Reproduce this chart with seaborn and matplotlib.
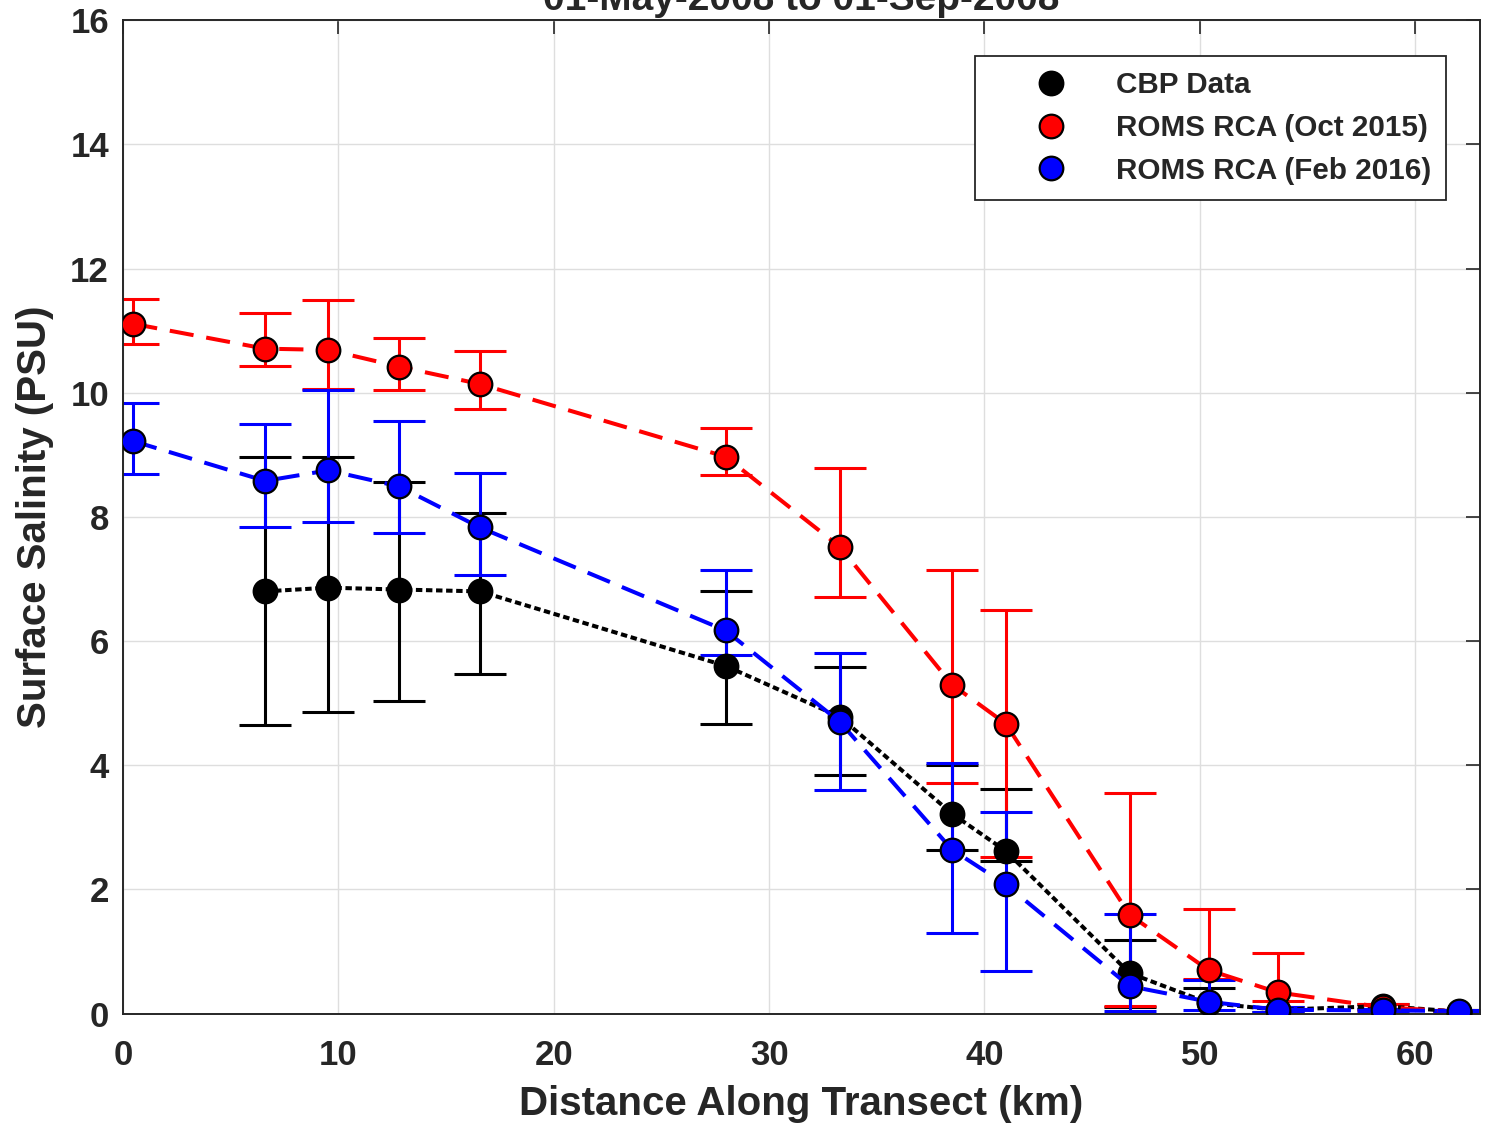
import numpy as np
import pandas as pd
import matplotlib
matplotlib.use("Agg")
import matplotlib.pyplot as plt
from matplotlib.lines import Line2D
import seaborn as sns

# Station distances along the transect (km)
distance_km = [0.49, 6.60, 9.54, 12.83, 16.58, 27.98, 33.28, 38.49, 40.98,
               46.74, 50.40, 53.62, 58.49, 62.05]

# CBP observations: mean, lower and upper bound (PSU)
cbp_mean = [np.nan, 6.80, 6.86, 6.83, 6.80, 5.60, 4.78, 3.22, 2.62, 0.65, 0.17, 0.06, 0.12, 0.03]
cbp_low = [np.nan, 4.64, 4.85, 5.03, 5.47, 4.66, 3.85, 2.64, 2.45, 0.10, 0.00, 0.02, 0.08, 0.01]
cbp_high = [np.nan, 8.96, 8.96, 8.56, 8.07, 6.81, 5.59, 4.01, 3.61, 1.19, 0.41, 0.10, 0.16, 0.05]

# ROMS RCA run (Oct 2015)
oct_mean = [11.11, 10.71, 10.69, 10.42, 10.14, 8.97, 7.52, 5.30, 4.67, 1.59, 0.70, 0.34, 0.10, 0.03]
oct_low = [10.78, 10.43, 10.06, 10.05, 9.74, 8.68, 6.71, 3.71, 2.52, 0.12, 0.55, 0.20, 0.05, 0.01]
oct_high = [11.51, 11.29, 11.49, 10.88, 10.68, 9.43, 8.78, 7.14, 6.50, 3.55, 1.69, 0.98, 0.16, 0.05]

# ROMS RCA run (Feb 2016)
feb_mean = [9.22, 8.58, 8.75, 8.49, 7.83, 6.17, 4.70, 2.64, 2.08, 0.44, 0.19, 0.06, 0.05, 0.04]
feb_low = [8.69, 7.83, 7.91, 7.74, 7.06, 5.77, 3.60, 1.29, 0.69, 0.04, 0.05, 0.02, 0.02, 0.01]
feb_high = [9.84, 9.50, 10.05, 9.55, 8.71, 7.15, 5.81, 4.04, 3.25, 1.60, 0.54, 0.10, 0.08, 0.06]

series_names = ["CBP Data", "ROMS RCA (Oct 2015)", "ROMS RCA (Feb 2016)"]
series_colors = ["#000000", "#ff0000", "#0000ff"]
title_text = "01-May-2008 to 01-Sep-2008"

sns.set_style("white")
text_color = "#262626"
plt.rcParams["font.family"] = ["Liberation Sans", "DejaVu Sans"]
plt.rcParams["font.weight"] = "bold"
plt.rcParams["axes.labelweight"] = "bold"
plt.rcParams["text.color"] = text_color
plt.rcParams["axes.labelcolor"] = text_color
plt.rcParams["xtick.color"] = text_color
plt.rcParams["ytick.color"] = text_color

fig = plt.figure(figsize=(14.85, 11.27), dpi=100)
ax = fig.add_axes([0.0827, 0.1007, 0.9966 - 0.0827, 0.9820 - 0.1007])

# Long-form table for seaborn
frames = []
for name, mean, low, high in zip(series_names,
                                 [cbp_mean, oct_mean, feb_mean],
                                 [cbp_low, oct_low, feb_low],
                                 [cbp_high, oct_high, feb_high]):
    frames.append(pd.DataFrame({"distance": distance_km, "salinity": mean,
                                "low": low, "high": high, "series": name}))
df = pd.concat(frames, ignore_index=True).dropna(subset=["salinity"])

# Error bars
for name, color in zip(series_names, series_colors):
    sub = df[df["series"] == name]
    yerr = np.vstack([sub["salinity"] - sub["low"], sub["high"] - sub["salinity"]])
    ax.errorbar(sub["distance"], sub["salinity"], yerr=yerr, fmt="none",
                ecolor=color, elinewidth=2.2, capsize=19, capthick=2.2, zorder=2)

# Lines with markers
palette = dict(zip(series_names, series_colors))
dashes = {series_names[0]: (1.6, 0.9),
          series_names[1]: (6.0, 3.2),
          series_names[2]: (6.0, 3.2)}
sns.lineplot(data=df, x="distance", y="salinity", hue="series", style="series",
             hue_order=series_names, style_order=series_names,
             palette=palette, dashes=dashes,
             markers={n: "o" for n in series_names},
             estimator=None, sort=False, linewidth=2.9,
             markersize=17, mec="black", mew=1.6,
             legend=False, ax=ax, zorder=3)

ax.set_xlim(0, 63)
ax.set_ylim(0, 16)
ax.set_xticks(range(0, 61, 10))
ax.set_yticks(range(0, 17, 2))
ax.grid(True, color="#dedede", linewidth=1.0)
ax.set_axisbelow(True)
for sp in ax.spines.values():
    sp.set_color(text_color)
    sp.set_linewidth(1.4)
ax.tick_params(direction="in", length=10, width=1.2, top=True, right=True,
               labelsize=25)
ax.tick_params(axis="x", pad=18)
ax.tick_params(axis="y", pad=10)
for lab in ax.get_xticklabels() + ax.get_yticklabels():
    lab.set_fontweight("bold")

ax.set_xlabel("Distance Along Transect (km)", fontsize=29, fontweight="bold", labelpad=10)
ax.set_ylabel("Surface Salinity (PSU)", fontsize=29, fontweight="bold", labelpad=12)

fig.text(0.5397, 1 - 10 / 1127, title_text, ha="center", va="baseline",
         fontsize=28, fontweight="bold", color=text_color)

handles = [Line2D([], [], linestyle="none", marker="o", markersize=17,
                  markerfacecolor=c, markeredgecolor="black", markeredgewidth=1.6)
           for c in series_colors]
leg = ax.legend(handles, series_names, loc="upper right",
                bbox_to_anchor=(0.975, 0.9637), borderaxespad=0,
                prop={"size": 21.3, "weight": "bold"}, frameon=True,
                fancybox=False, edgecolor="#262626", framealpha=1,
                labelspacing=0.5, handletextpad=0.15, borderpad=0.5,
                handlelength=4.1)
leg.get_frame().set_linewidth(1.3)

fig.savefig("out.png", dpi=100)
